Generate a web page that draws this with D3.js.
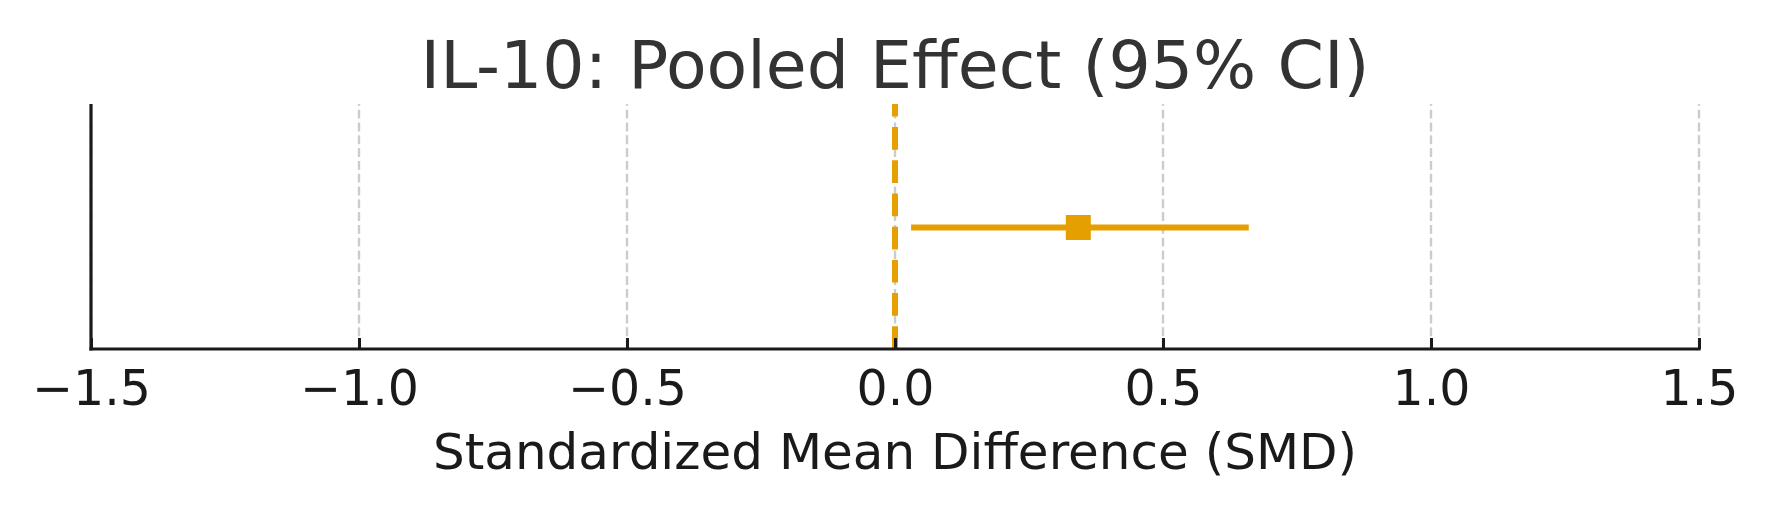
<!DOCTYPE html>
<html>
<head>
<meta charset="utf-8">
<script src="https://cdn.jsdelivr.net/npm/d3@7"></script>
<style>
  html, body { margin: 0; padding: 0; background: #ffffff; }
  svg { display: block; }
  text { font-family: "DejaVu Sans", sans-serif; }
</style>
</head>
<body>
<script>
// ---- data ----
const titleText = "IL-10: Pooled Effect (95% CI)";
const xLabel = "Standardized Mean Difference (SMD)";
const categories = ["IL-10"];
const estimates = [0.342];
const ciLower = [0.030];
const ciUpper = [0.660];
const xDomain = [-1.5, 1.5];
const xTicks = [-1.5, -1.0, -0.5, 0.0, 0.5, 1.0, 1.5];
const refValue = [0];

// ---- layout ----
const W = 1769, H = 507;
const plotLeft = 91, plotRight = 1699, plotTop = 104, plotBottom = 349;
const orange = "#E69F00";
const ink = "#1a1a1a";

const svg = d3.select("body").append("svg").attr("width", W).attr("height", H);

const x = d3.scaleLinear().domain(xDomain).range([plotLeft, plotRight]);
const y = d3.scaleBand().domain(categories).range([plotBottom, plotTop]).padding(0);

// grid lines (drawn bottom -> top, like matplotlib)
svg.append("g").selectAll("line").data(xTicks).join("line")
  .attr("x1", d => x(d)).attr("x2", d => x(d))
  .attr("y1", plotBottom).attr("y2", plotTop)
  .attr("stroke", "#cccccc").attr("stroke-width", 2.4)
  .attr("stroke-dasharray", "8.9,3.9");

// reference line at 0
svg.append("g").selectAll("line").data(refValue).join("line")
  .attr("x1", d => x(d)).attr("x2", d => x(d))
  .attr("y1", plotBottom).attr("y2", plotTop)
  .attr("stroke", orange).attr("stroke-width", 6)
  .attr("stroke-dasharray", "22.7,10.5");

// CI lines
const cy = d => y(d) + y.bandwidth() / 2 + 1;
svg.append("g").selectAll("line").data(categories).join("line")
  .attr("x1", (d, i) => x(ciLower[i])).attr("x2", (d, i) => x(ciUpper[i]))
  .attr("y1", d => cy(d)).attr("y2", d => cy(d))
  .attr("stroke", orange).attr("stroke-width", 6);

// point estimate squares
const ms = 25;
svg.append("g").selectAll("rect").data(categories).join("rect")
  .attr("x", (d, i) => x(estimates[i]) - ms / 2)
  .attr("y", d => cy(d) - ms / 2)
  .attr("width", ms).attr("height", ms)
  .attr("fill", orange);

// x axis
const xAxis = d3.axisBottom(x).tickValues(xTicks)
  .tickFormat(d => d3.format(".1f")(d).replace("-", "\u2212"))
  .tickSizeInner(-11).tickSizeOuter(0).tickPadding(0);
const gx = svg.append("g").attr("transform", `translate(0,${plotBottom})`).call(xAxis);
gx.select(".domain").remove();
gx.selectAll(".tick line").attr("stroke", ink).attr("stroke-width", 3);
gx.selectAll(".tick text")
  .attr("fill", ink).attr("font-size", 49).attr("dy", null).attr("y", 56);

// spines
svg.append("line").attr("x1", plotLeft).attr("x2", plotLeft).attr("y1", plotTop).attr("y2", plotBottom + 1.5)
  .attr("stroke", ink).attr("stroke-width", 3.2);
svg.append("line").attr("x1", plotLeft - 1.6).attr("x2", plotRight + 1.6).attr("y1", plotBottom).attr("y2", plotBottom)
  .attr("stroke", ink).attr("stroke-width", 3.2);

// title
svg.append("text").attr("x", (plotLeft + plotRight) / 2).attr("y", 88)
  .attr("text-anchor", "middle").attr("font-size", 66.5).attr("fill", "#333333")
  .text(titleText);

// x label
svg.append("text").attr("x", (plotLeft + plotRight) / 2).attr("y", 469)
  .attr("text-anchor", "middle").attr("font-size", 50).attr("fill", ink)
  .text(xLabel);
</script>
</body>
</html>
